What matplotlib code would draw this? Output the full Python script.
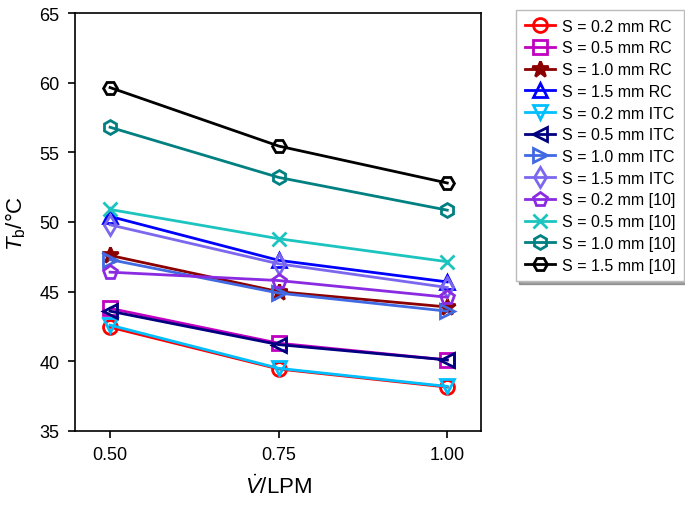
import matplotlib
matplotlib.use("Agg")
import matplotlib.pyplot as plt

plt.rcParams['font.family'] = ['Liberation Sans', 'DejaVu Sans']
plt.rcParams['mathtext.fontset'] = 'custom'
plt.rcParams['mathtext.it'] = 'Liberation Sans:italic'
plt.rcParams['mathtext.rm'] = 'Liberation Sans'

flow = [0.50, 0.75, 1.00]
labels = ["S = 0.2 mm RC", "S = 0.5 mm RC", "S = 1.0 mm RC", "S = 1.5 mm RC",
          "S = 0.2 mm ITC", "S = 0.5 mm ITC", "S = 1.0 mm ITC", "S = 1.5 mm ITC",
          "S = 0.2 mm [10]", "S = 0.5 mm [10]", "S = 1.0 mm [10]", "S = 1.5 mm [10]"]
rc_02 = [42.45, 39.45, 38.15]
rc_05 = [43.8, 41.3, 40.1]
rc_10 = [47.6, 45.0, 43.9]
rc_15 = [50.4, 47.25, 45.7]
itc_02 = [42.6, 39.5, 38.2]
itc_05 = [43.6, 41.2, 40.1]
itc_10 = [47.3, 44.9, 43.6]
itc_15 = [49.8, 47.0, 45.3]
ref_02 = [46.4, 45.8, 44.6]
ref_05 = [50.9, 48.8, 47.15]
ref_10 = [56.8, 53.2, 50.85]
ref_15 = [59.65, 55.45, 52.8]
series = [rc_02, rc_05, rc_10, rc_15, itc_02, itc_05, itc_10, itc_15,
          ref_02, ref_05, ref_10, ref_15]
colors = ['#FF0000', '#C000C0', '#8B0000', '#0000FF', '#00BFFF', '#000080',
          '#4169E1', '#7B68EE', '#8A2BE2', '#1CC4C0', '#008080', '#000000']
markers = ['o', 's', '*', '^', 'v', '<', '>', 'd', 'p', 'x', 'h', 'H']

fig = plt.figure(figsize=(6.85, 5.06), dpi=100)
ax = fig.add_axes([75/685, 1-432/506, 406/685, 418/506])
for y, c, m, lab in zip(series, colors, markers, labels):
    ax.plot(flow, y, color=c, marker=m, markersize=10 if m != '*' else 12,
            markerfacecolor='none' if m not in ('*',) else c,
            markeredgewidth=2, linewidth=2, label=lab)

ax.set_xlim(0.448, 1.05)
ax.set_ylim(35, 65)
ax.set_xticks(flow)
ax.set_xticklabels(['0.50', '0.75', '1.00'])
ax.set_yticks([35, 40, 45, 50, 55, 60, 65])
ax.tick_params(labelsize=13, direction='out', length=5, width=1.2, pad=6)
for s in ax.spines.values():
    s.set_linewidth(1.2)
ax.set_xlabel(r'$\dot{V}$/LPM', fontsize=16, labelpad=8)
ax.set_ylabel(r'$T_\mathrm{b}$/°C', fontsize=16, labelpad=8)
leg = ax.legend(loc='upper left', bbox_to_anchor=((516 - 75)/406, 1 + (14-11)/418),
                borderaxespad=0,
                fontsize=11.5, shadow=True, fancybox=False, frameon=True,
                handlelength=1.9, handletextpad=0.4, labelspacing=0.42,
                borderpad=0.55, edgecolor='#BBBBBB')
fig.savefig('out.png', dpi=100)
